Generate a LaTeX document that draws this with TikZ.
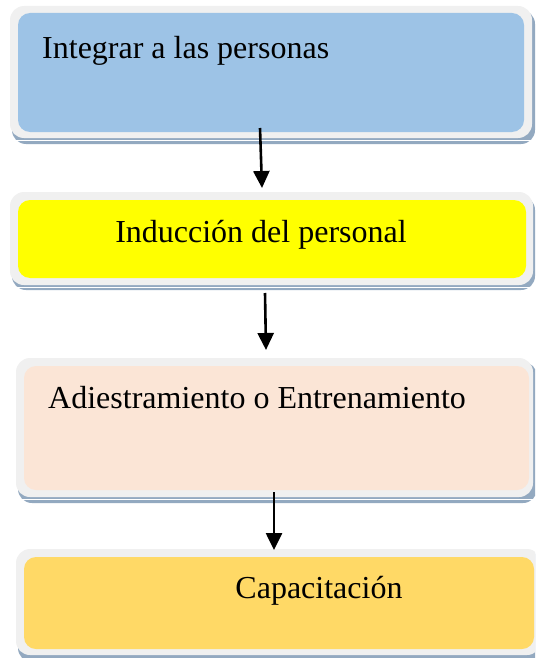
\documentclass[tikz,border=0pt]{standalone}
\usepackage{fontspec}
\setmainfont{Liberation Serif}
\usetikzlibrary{arrows.meta}
\definecolor{frameg}{HTML}{F0F0F0}
\definecolor{shadowc}{HTML}{93A9C0}
\definecolor{cblue}{HTML}{9DC3E6}
\definecolor{cyellow}{HTML}{FFFF00}
\definecolor{cpeach}{HTML}{FBE5D6}
\definecolor{corange}{HTML}{FFD966}
\tikzset{
  shadowbox/.style={fill=shadowc, rounded corners=14pt},
  framebox/.style={fill=frameg, rounded corners=14pt},
  innerbox/.style={rounded corners=12pt},
  lbl/.style={inner sep=0pt, font=\fontsize{32}{38}\selectfont},
  flowarrow/.style={line width=2.6pt, -{Triangle[width=16pt,length=17pt]}}
}
\begin{document}
\begin{tikzpicture}[x=1pt,y=-1pt]
\clip (0,0) rectangle (535,658);
% Box 1
\fill[shadowbox] (12,10) rectangle (535,144);
\fill[white] (14,140) rectangle (533,141);
\fill[framebox] (10,6) rectangle (532,138);
\fill[innerbox,cblue] (18,13) rectangle (524,132);
\node[lbl, anchor=base west] (t1) at (42,59) {Integrar a las personas};
% Box 2
\fill[shadowbox] (12,196) rectangle (535,290);
\fill[white] (14,287) rectangle (533,288);
\fill[framebox] (10,192) rectangle (533,285);
\fill[innerbox,cyellow] (18,200) rectangle (526,278);
\node[lbl, anchor=base] (t2) at (261,242) {Inducción del personal};
% Box 3
\fill[shadowbox] (18,362) rectangle (537,503);
\fill[white] (20,499) rectangle (535,500);
\fill[framebox] (16,358) rectangle (533,497);
\fill[innerbox,cpeach] (24,366) rectangle (529,490);
\node[lbl, anchor=base west] (t3) at (48,408) {Adiestramiento o Entrenamiento};
% Box 4
\fill[shadowbox] (18,553) rectangle (545,662);
\fill[framebox] (16,549) rectangle (541,655);
\fill[innerbox,corange] (24,557) rectangle (534,649);
\node[lbl, anchor=base] (t4) at (319,598) {Capacitación};
% Arrows
\coordinate (a1s) at (260,128);
\coordinate (a1e) at (262,188);
\coordinate (a2s) at (265,293);
\coordinate (a2e) at (266,350);
\coordinate (a3s) at (274,492);
\coordinate (a3e) at (274,550);
\draw[flowarrow] (a1s) -- (a1e);
\draw[flowarrow] (a2s) -- (a2e);
\draw[flowarrow] (a3s) -- (a3e);
\end{tikzpicture}
\end{document}
